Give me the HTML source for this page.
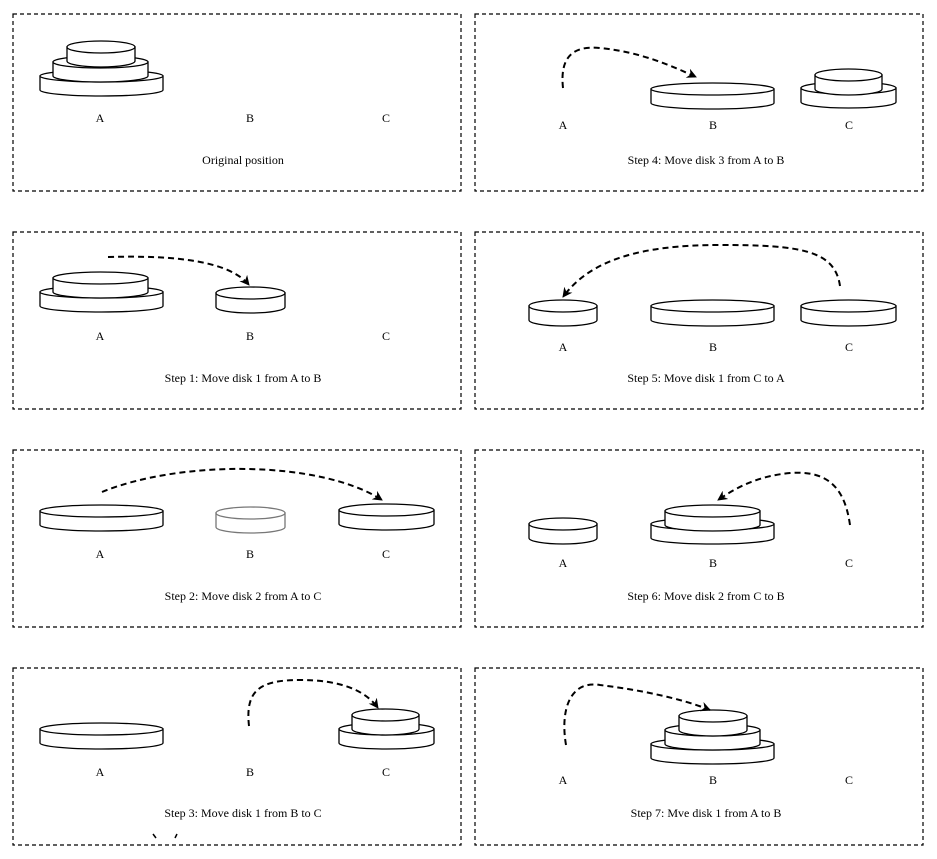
<!DOCTYPE html>
<html><head><meta charset="utf-8"><style>
html,body{margin:0;padding:0;background:#fff;}
svg{display:block;}
text{font-family:"Liberation Serif",serif;font-size:12px;fill:#000;text-anchor:middle;}
</style></head><body>
<svg id="s" width="937" height="859" viewBox="0 0 937 859" xmlns="http://www.w3.org/2000/svg">
<defs><marker id="ah" markerWidth="12" markerHeight="12" refX="9" refY="6" orient="auto" markerUnits="userSpaceOnUse"><path d="M0,1 L10,6 L0,11 L3,6 Z" fill="#000"/></marker></defs>
<g fill="none" stroke="#000" stroke-width="1.2" stroke-dasharray="4,3">
<rect x="13" y="14" width="448" height="177"/><rect x="475" y="14" width="448" height="177"/>
<rect x="13" y="232" width="448" height="177"/><rect x="475" y="232" width="448" height="177"/>
<rect x="13" y="450" width="448" height="177"/><rect x="475" y="450" width="448" height="177"/>
<rect x="13" y="668" width="448" height="177"/><rect x="475" y="668" width="448" height="177"/>
</g>
<g id="disks"></g>
<g fill="none" stroke="#000" stroke-width="2" stroke-dasharray="6,4">
<path d="M108,257 C180,255 230,262 249,285" marker-end="url(#ah)"/>
<path d="M102,492 C180,460 320,460 382,500" marker-end="url(#ah)"/>
<path d="M249,726 C245,690 260,680 300,680 C340,680 365,690 378,708" marker-end="url(#ah)"/>
<path d="M563,88 C560,60 570,45 600,48 C640,52 670,65 696,77" marker-end="url(#ah)"/>
<path d="M840,286 C835,250 800,245 720,245 C640,245 590,260 563,297" marker-end="url(#ah)"/>
<path d="M850,525 C845,490 830,470 790,473 C760,476 740,485 718,500" marker-end="url(#ah)"/>
<path d="M566,745 C560,710 570,680 600,685 C640,690 680,698 710,710" marker-end="url(#ah)"/>
<path d="M153,834 L156,838 M177,834 L175,838" stroke-dasharray="none" stroke-width="1.5"/>
</g>
<text x="100" y="122">A</text><text x="250" y="122">B</text><text x="386" y="122">C</text>
<text x="243" y="164">Original position</text>
<text x="100" y="340">A</text><text x="250" y="340">B</text><text x="386" y="340">C</text>
<text x="243" y="382">Step 1: Move disk 1 from A to B</text>
<text x="100" y="558">A</text><text x="250" y="558">B</text><text x="386" y="558">C</text>
<text x="243" y="600">Step 2: Move disk 2 from A to C</text>
<text x="100" y="776">A</text><text x="250" y="776">B</text><text x="386" y="776">C</text>
<text x="243" y="817">Step 3: Move disk 1 from B to C</text>
<text x="563" y="129">A</text><text x="713" y="129">B</text><text x="849" y="129">C</text>
<text x="706" y="164">Step 4: Move disk 3 from A to B</text>
<text x="563" y="351">A</text><text x="713" y="351">B</text><text x="849" y="351">C</text>
<text x="706" y="382">Step 5: Move disk 1 from C to A</text>
<text x="563" y="567">A</text><text x="713" y="567">B</text><text x="849" y="567">C</text>
<text x="706" y="600">Step 6: Move disk 2 from C to B</text>
<text x="563" y="784">A</text><text x="713" y="784">B</text><text x="849" y="784">C</text>
<text x="706" y="817">Step 7: Mve disk 1 from A to B</text>
</svg>
<script>
var D=[
[40,163,70],[53,148,56],[67,135,41],
[40,163,286],[53,148,272],[216,285,287],
[40,163,505],[216,285,507,1],[339,434,504],
[40,163,723],[339,434,723],[352,419,709],
[651,774,83],[801,896,82],[815,882,69],
[529,597,300],[651,774,300],[801,896,300],
[529,597,518],[651,774,518],[665,760,505],
[651,774,738],[665,760,724],[679,747,710]
];
D.sort(function(a,b){return b[2]-a[2];});
var s='',ry=6,h=14;
D.forEach(function(d){
var x1=d[0],x2=d[1],t=d[2],cy=t+ry,rx=(x2-x1)/2,cx=(x1+x2)/2,c=d[3]?'#777':'#000';
s+='<path d="M'+x1+','+cy+' L'+x1+','+(cy+h)+' A'+rx+','+ry+' 0 0 0 '+x2+','+(cy+h)+' L'+x2+','+cy+' Z" fill="#fff" stroke="'+c+'" stroke-width="1.3"/>';
s+='<ellipse cx="'+cx+'" cy="'+cy+'" rx="'+rx+'" ry="'+ry+'" fill="#fff" stroke="'+c+'" stroke-width="1.3"/>';
});
document.getElementById('disks').innerHTML=s;
</script>
</body></html>
